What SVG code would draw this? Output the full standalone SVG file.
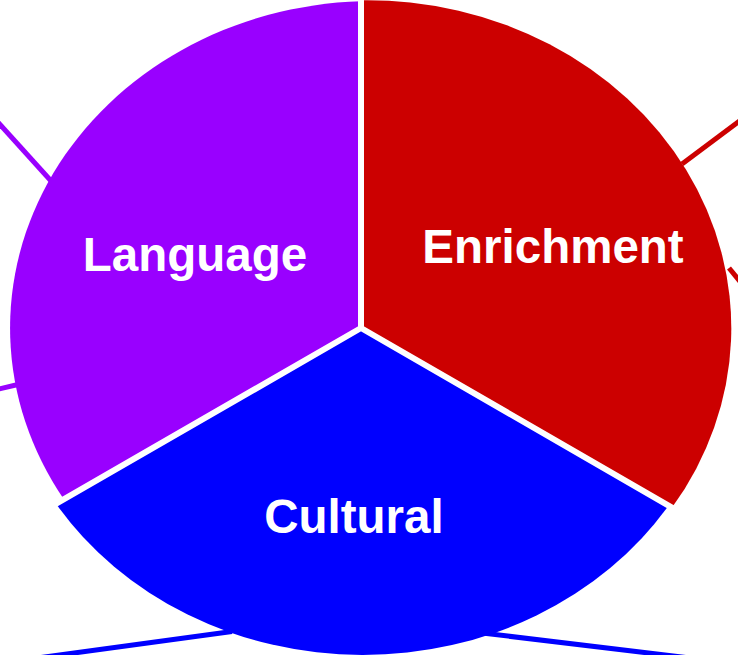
<svg xmlns="http://www.w3.org/2000/svg" width="738" height="655" viewBox="0 0 738 655">
<style>
.lbl{font-family:"Liberation Sans",Arial,sans-serif;font-weight:bold;font-size:47.5px;fill:#ffffff;text-anchor:middle}
.lead{fill:none;stroke-width:5}
</style>
<rect width="738" height="655" fill="#ffffff"/>
<g id="connectors">
<line class="lead" stroke="#9900FF" x1="-5" y1="119" x2="52" y2="182"/>
<line class="lead" stroke="#9900FF" x1="-5" y1="390" x2="18" y2="384.5"/>
<line class="lead" stroke="#CC0000" x1="682" y1="164" x2="745" y2="117"/>
<line class="lead" stroke="#CC0000" x1="729" y1="268" x2="742" y2="284"/>
<line class="lead" stroke="#0000FF" x1="30" y1="659" x2="232" y2="631.5"/>
<line class="lead" stroke="#0000FF" x1="478" y1="632.5" x2="690" y2="658"/>
</g>
<g id="language">
<path d="M361,328 L361,1.2 A363,327 0 0,0 64,499.5 Z" fill="#9900FF"/>
<text class="lbl" x="195" y="271">Language</text>
</g>
<g id="enrichment">
<path d="M361,328 L361,0.2 A364,328 0 0,1 672,507.6 Z" fill="#CC0000"/>
<text class="lbl" x="553" y="263">Enrichment</text>
</g>
<g id="cultural">
<path d="M361,328 L668.6,505.6 A364,327 0 0,1 56.2,504 Z" fill="#0000FF"/>
<text class="lbl" x="354" y="533">Cultural</text>
</g>
<path id="gaps" d="M361,-5 V328 M361,328 L690,518 M361,328 L40,513" fill="none" stroke="#ffffff" stroke-width="6"/>
</svg>
